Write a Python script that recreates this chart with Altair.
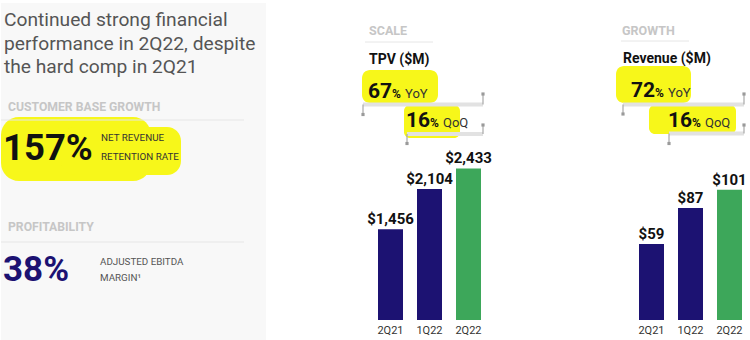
import altair as alt
import pandas as pd

# ---- data ----
quarters = ["2Q21", "1Q22", "2Q22"]
tpv_values = [1456, 2104, 2433]
revenue_values = [59, 87, 101]

NAVY = "#1c1272"
GREEN = "#3da75a"
YELLOW = "#f7f71a"
FONT = "Roboto"
ONE = alt.Data(values=[{}])


def txt(text, x, y, size, color="#222", weight="normal", align="left"):
    return alt.Chart(ONE).mark_text(
        text=text, fontSize=size, color=color, fontWeight=weight,
        align=align, baseline="alphabetic", font=FONT
    ).encode(x=alt.value(x), y=alt.value(y))


def rule(x1, x2, y1, y2, color="#e6e6e6", width=1.0):
    return alt.Chart(ONE).mark_rule(color=color, strokeWidth=width).encode(
        x=alt.value(x1), x2=alt.value(x2), y=alt.value(y1), y2=alt.value(y2)
    )


def rect(x1, x2, y1, y2, color, radius=0, opacity=1.0):
    return alt.Chart(ONE).mark_rect(color=color, cornerRadius=radius, opacity=opacity).encode(
        x=alt.value(x1), x2=alt.value(x2), y=alt.value(y1), y2=alt.value(y2)
    )


def dot(x, y):
    return alt.Chart(ONE).mark_square(size=10, color="#9a9a9a", filled=True, opacity=1).encode(
        x=alt.value(x), y=alt.value(y)
    )


def bracket(xl, xr, y, ytop, ybot):
    return [
        rule(xl, xr, y, y, color="#e2e2e2", width=4),
        rule(xr, xr, ytop, y, color="#a8a8a8", width=1.2),
        rule(xl, xl, y, ybot, color="#a8a8a8", width=1.2),
        dot(xr, ytop),
        dot(xl, ybot),
    ]


def bar_layers(values, ymax):
    df = pd.DataFrame({"quarter": quarters, "value": values})
    base = alt.Chart(df).encode(
        x=alt.X("quarter:N", sort=quarters,
                scale=alt.Scale(paddingInner=14 / 39, paddingOuter=7 / 39),
                axis=alt.Axis(title=None, labelAngle=0, domain=False, ticks=False,
                              labelPadding=4, labelFontSize=11, labelColor="#333",
                              labelFont=FONT)),
        y=alt.Y("value:Q", scale=alt.Scale(domain=[0, ymax], nice=False, zero=True), axis=None),
    )
    bars = base.mark_bar().encode(
        color=alt.condition(alt.datum.quarter == "2Q22", alt.value(GREEN), alt.value(NAVY))
    )
    labels = base.mark_text(baseline="alphabetic", dy=-5, fontSize=15, fontWeight="bold",
                            font=FONT, color="#111").encode(
        text=alt.Text("value:Q", format="$,.0f")
    )
    return bars, labels


H = 317

# ---- left panel ----
left = alt.layer(
    rect(0, 265, 0, 340, "#f8f8f8"),
    rect(0, 150, 114, 178, YELLOW, radius=18),
    rect(60, 180, 124, 172, YELLOW, radius=14),
    txt("Continued strong financial", 3, 23, 19.2, color="#555"),
    txt("performance in 2Q22, despite", 3, 47, 19.2, color="#555"),
    txt("the hard comp in 2Q21", 3, 70, 19.2, color="#555"),
    txt("CUSTOMER BASE GROWTH", 7, 108, 12.2, color="#c6c6c6", weight="bold"),
    rule(0, 243, 117, 117, color="#e6e6e6", width=1),
    txt("157%", 2, 157, 36.5, color="#111", weight="bold"),
    txt("NET REVENUE", 100, 138, 9.8, color="#333"),
    txt("RETENTION RATE", 100, 157, 9.8, color="#333"),
    txt("PROFITABILITY", 7, 228, 12.2, color="#c6c6c6", weight="bold"),
    rule(0, 243, 239, 239, color="#e6e6e6", width=1),
    txt("38%", 2, 278, 35, color=NAVY, weight="bold"),
    txt("ADJUSTED EBITDA", 99, 262, 9.8, color="#555"),
    txt("MARGIN¹", 99, 278, 9.8, color="#555"),
).properties(width=370, height=H)

# ---- middle panel (TPV) ----
o = 370
tb, tl = bar_layers(tpv_values, 5090)
middle = alt.layer(
    rect(361 - o, 437 - o, 67, 100, YELLOW, radius=8),
    rect(403 - o, 459 - o, 102, 135, YELLOW, radius=6),
    *bracket(362 - o, 482 - o, 101.5, 91, 111.5),
    *bracket(406 - o, 482 - o, 131, 122, 140.5),
    txt("SCALE", 368 - o, 32, 12.5, color="#c6c6c6", weight="bold"),
    rule(364 - o, 432 - o, 39, 39, color="#e6e6e6", width=1),
    txt("TPV ($M)", 368 - o, 61, 14, color="#111", weight="bold"),
    txt("67", 367 - o, 95, 21, color="#111", weight="bold"),
    txt("%", 391 - o, 95, 12, color="#111", weight="bold"),
    txt("YoY", 404 - o, 95, 13, color="#333"),
    txt("16", 405 - o, 124, 21, color="#111", weight="bold"),
    txt("%", 429 - o, 124, 12, color="#111", weight="bold"),
    txt("QoQ", 442 - o, 124, 13, color="#333"),
    tb, tl,
).properties(width=117, height=H)

spacer = alt.Chart(ONE).mark_point(opacity=0).encode(
    x=alt.value(0), y=alt.value(0)
).properties(width=144, height=H)

# ---- right panel (Revenue) ----
o = 631
rb, rl = bar_layers(revenue_values, 246)
right = alt.layer(
    rect(615 - o, 690 - o, 63, 100, YELLOW, radius=8),
    rect(648 - o, 735 - o, 102, 131, YELLOW, radius=6),
    *bracket(622 - o, 743 - o, 101.5, 91, 111),
    *bracket(668 - o, 743 - o, 130.5, 122, 140.5),
    txt("GROWTH", 621 - o, 32, 12.5, color="#c6c6c6", weight="bold"),
    rule(620 - o, 688 - o, 38, 38, color="#e6e6e6", width=1),
    txt("Revenue ($M)", 622 - o, 60, 14, color="#111", weight="bold"),
    txt("72", 630 - o, 94, 21, color="#111", weight="bold"),
    txt("%", 654 - o, 94, 12, color="#111", weight="bold"),
    txt("YoY", 667 - o, 94, 13, color="#333"),
    txt("16", 667 - o, 124, 21, color="#111", weight="bold"),
    txt("%", 691 - o, 124, 12, color="#111", weight="bold"),
    txt("QoQ", 704 - o, 124, 13, color="#333"),
    rb, rl,
).properties(width=117, height=H)

chart = alt.hconcat(left, middle, spacer, right, spacing=0, bounds="flush").properties(
    padding=0, background="white"
).configure_view(stroke=None)

chart.save("out.html", embed_options={"renderer": "svg", "actions": False})
